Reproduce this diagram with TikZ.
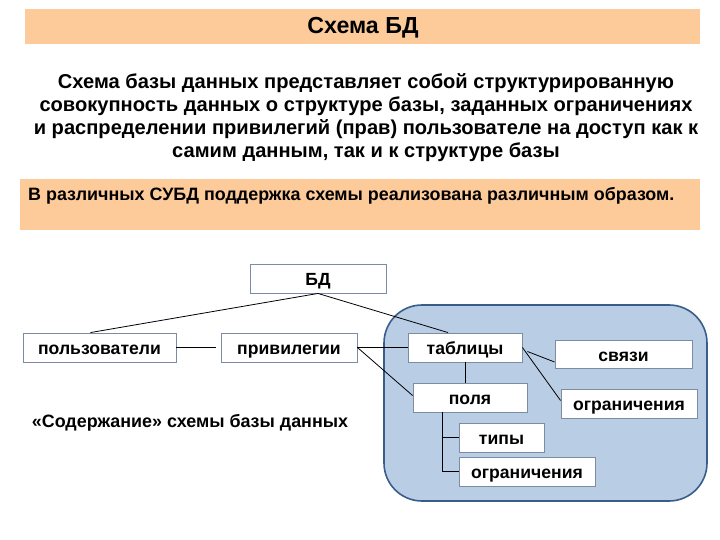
\documentclass[tikz,border=0pt]{standalone}
\usepackage{fontspec}
\setmainfont{Liberation Sans}
\definecolor{peach}{RGB}{253,203,153}
\definecolor{panelfill}{RGB}{185,205,229}
\definecolor{paneldraw}{RGB}{56,93,138}
\definecolor{boxdraw}{RGB}{125,140,165}
\tikzset{
  item/.style={draw=boxdraw, line width=0.9pt, fill=white, minimum height=29pt, inner sep=0pt,
    text height=16pt, text depth=2pt,
    font=\fontsize{17.6}{20}\selectfont\bfseries},
  link/.style={draw=black, line width=0.8pt},
}
\begin{document}
\begin{tikzpicture}[x=1pt,y=-1pt]
\useasboundingbox (0,0) rectangle (720,540);
% header bars
\fill[peach] (25,9) rectangle (700,44);
\node[font=\fontsize{23.2}{26}\selectfont\bfseries] (title) at (363,28) {Схема БД};
\node[font=\fontsize{20.1}{23.3}\selectfont\bfseries, align=center, anchor=base] (para) at (366,158)
  {Схема базы данных представляет собой структурированную\\
   совокупность данных о структуре базы, заданных ограничениях\\
   и распределении привилегий (прав) пользователе на доступ как к\\
   самим данным, так и к структуре базы};
\fill[peach] (20,179) rectangle (700,230);
\node[font=\fontsize{17.9}{21}\selectfont\bfseries, anchor=base west, inner sep=0pt] (note) at (28,201)
  {В различных СУБД поддержка схемы реализована различным образом.};
% panel
\filldraw[fill=panelfill, draw=paneldraw, line width=1.6pt, rounded corners=38pt] (384,305) rectangle (707,501);
% nodes
\node[item, minimum width=136pt] (bd) at (318,278.5) {БД};
\node[item, minimum width=153pt] (users) at (99.5,347.5) {пользователи};
\node[item, minimum width=136pt] (priv) at (289,347.5) {привилегии};
\node[item, minimum width=114pt] (tab) at (465,347.5) {таблицы};
\node[item, minimum width=137pt, minimum height=28pt] (links) at (623.5,354) {связи};
\node[item, minimum width=136pt] (cons1) at (629,403.5) {ограничения};
\node[item, minimum width=114pt] (fields) at (470,397.5) {поля};
\node[item, minimum width=85pt] (types) at (501.5,437.5) {типы};
\node[item, minimum width=136pt] (cons2) at (527,471.5) {ограничения};
\node[font=\fontsize{17.9}{21}\selectfont\bfseries] (content) at (190,423) {«Содержание» схемы базы данных};
% connectors
\draw[link] (bd.south) -- ([xshift=-9pt]users.north);
\draw[link] (bd.south) -- ([xshift=-17pt]tab.north);
\draw[link] (users.east) -- ([xshift=-5pt]priv.west);
\draw[link] (priv.east) -- (tab.west);
\draw[link] (priv.east) -- ([yshift=2pt]fields.west);
\draw[link] ([xshift=5pt,yshift=-4pt]tab.east) -- ([yshift=-8pt]links.west);
\draw[link] (tab.east) -- ([yshift=3pt]cons1.west);
\draw[link] (tab.south) -- (tab.south |- fields.north);
\coordinate (ft) at ([xshift=-28pt]fields.south);
\draw[link] (ft) -- (ft |- cons2.west) -- (cons2.west);
\draw[link] (ft |- types.west) -- (types.west);
\end{tikzpicture}
\end{document}
